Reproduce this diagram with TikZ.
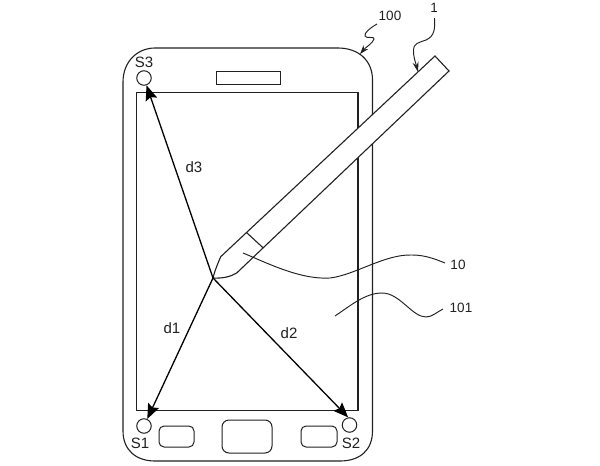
\documentclass[tikz,border=0pt]{standalone}
\usepackage{fontspec}
\setmainfont{Liberation Sans}
\usetikzlibrary{arrows.meta}
\definecolor{ink}{gray}{0.13}
\tikzset{
  outline/.style={draw=ink,line width=1.1pt},
  sensor/.style={circle,draw=ink,line width=1pt,minimum size=14.5pt,inner sep=0pt},
  keybox/.style={draw=ink,line width=1pt,rounded corners=5pt},
  dist/.style={draw=black,line width=1.3pt,-{Stealth[length=15pt,width=12pt,inset=2.5pt]}},
  leader/.style={draw=ink,line width=0.95pt},
  lab/.style={font=\fontsize{13.5pt}{14pt}\selectfont,text=ink,inner sep=0pt},
  biglab/.style={font=\fontsize{15pt}{16pt}\selectfont,text=ink,inner sep=0pt}
}
\begin{document}
\begin{tikzpicture}[x=1pt,y=-1pt]
\useasboundingbox (0,0) rectangle (600,466);
\fill[white] (0,0) rectangle (600,466);
% body
\draw[outline] (372.5,80) .. controls (372.5,60) and (358,48) .. (338,48) -- (155,48)
  .. controls (137,48) and (123,62) .. (123,82) -- (123,431)
  .. controls (123,450) and (136,461) .. (155,461) -- (340,461)
  .. controls (360,461) and (372.5,450) .. (372.5,431) -- cycle;
% screen and keys
\draw[outline] (136.7,92.7) rectangle (358,410.5);
\draw[outline,line width=1pt] (216.7,71) rectangle (280,84);
\node[keybox,minimum width=35pt,minimum height=21pt,inner sep=0pt] (k1) at (176.5,436.5) {};
\node[keybox,rounded corners=7pt,minimum width=50pt,minimum height=33pt,inner sep=0pt] (k2) at (247,436.5) {};
\node[keybox,minimum width=36pt,minimum height=21pt,inner sep=0pt] (k3) at (319,436.5) {};
% sensors
\node[sensor] (s3) at (144,78) {};
\node[sensor] (s1) at (144,426) {};
\node[sensor] (s2) at (349.5,425) {};
\node[biglab] (ls3) at (144,62) {S3};
\node[biglab] (ls1) at (140,443) {S1};
\node[biglab] (ls2) at (351,443) {S2};
% pen
\coordinate (hub) at (213,278);
\filldraw[outline,fill=white] (435,56) -- (449,71) -- (236.7,273)
  .. controls (230,277) and (222,278.5) .. (hub)
  .. controls (215,270) and (218,263) .. (220.7,256.7) -- cycle;
\draw[outline] (246.7,232.7) -- (263,247.7);
% distances
\draw[dist] (hub) -- (s3);
\draw[dist] (hub) -- (s1);
\draw[dist] (hub) -- (s2.100);
\node[biglab] (d3) at (194,167) {d3};
\node[biglab] (d1) at (172,328) {d1};
\node[biglab] (d2) at (289,333) {d2};
% leaders
\node[lab] (l10) at (458,265) {10};
\node[lab] (l101) at (461,308) {101};
\node[lab] (l100) at (390,16) {100};
\node[lab] (l1) at (434,8) {1};
\coordinate (a10) at (243,253);
\coordinate (e10) at (445,263);
\coordinate (b101) at (335,316);
\coordinate (e101) at (443,309);
\draw[leader] (a10) .. controls (265,262) and (300,280) .. (330,278)
  .. controls (355,275) and (385,254) .. (412,255)
  .. controls (425,255) and (435,259) .. (e10);
\draw[leader] (b101) .. controls (350,306) and (365,293) .. (382,293)
  .. controls (400,293) and (412,317) .. (426,317)
  .. controls (432,317) and (437,312) .. (e101);
\coordinate (e100) at (360,54);
\draw[leader,-{Stealth[length=9pt,width=6pt]}] (377,24) .. controls (370,28) and (364,33) .. (365,36)
  .. controls (366,39) and (375,36) .. (374,39) .. controls (373,43) and (366,47) .. (e100);
\coordinate (e1) at (418,72);
\draw[leader,-{Stealth[length=10pt,width=6pt]}] (434.5,18) .. controls (435,28) and (435,36) .. (426,40)
  .. controls (418,43) and (414,43) .. (413.5,50) .. controls (413,56) and (416,64) .. (e1);
\end{tikzpicture}
\end{document}
